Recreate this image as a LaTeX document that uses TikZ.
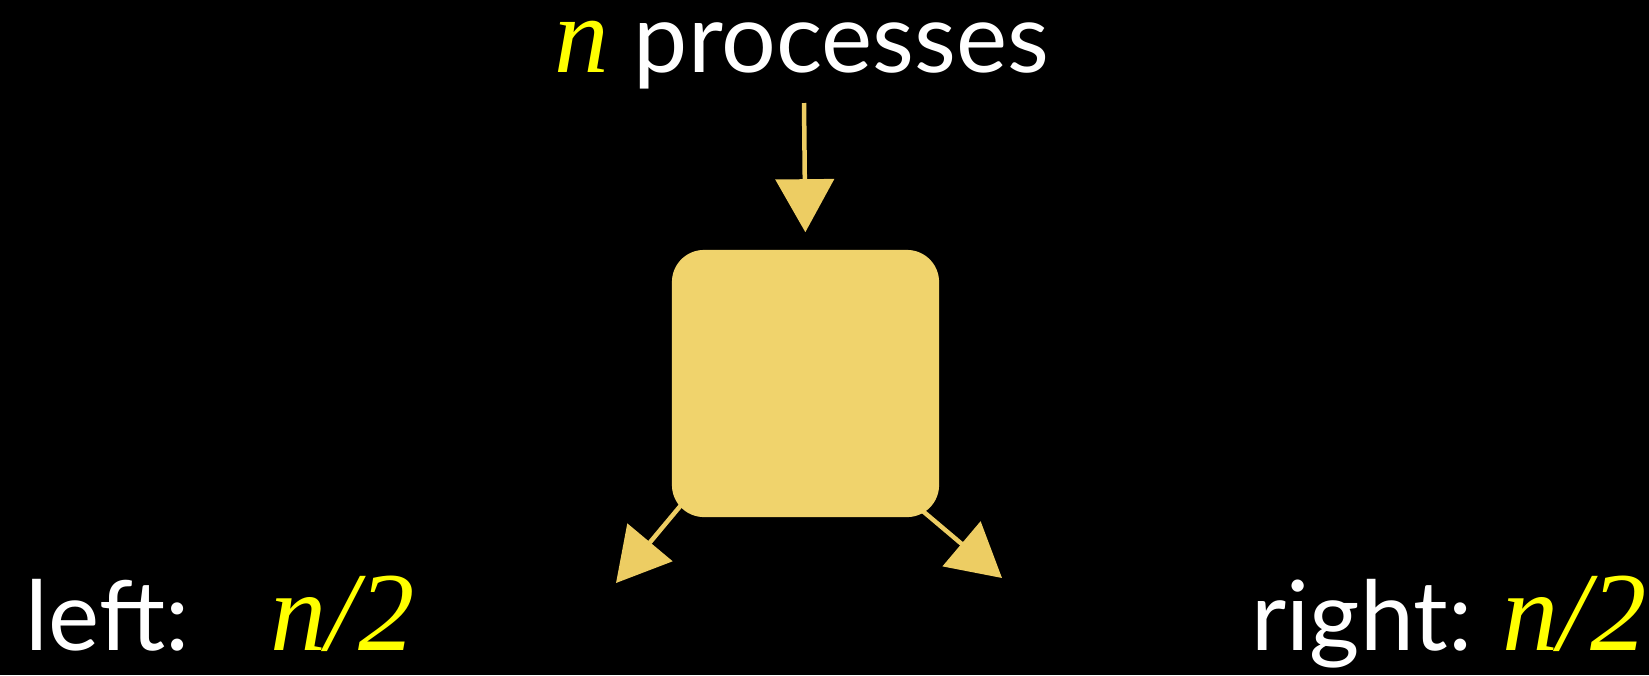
\documentclass[tikz,border=0pt]{standalone}
\usepackage{fontspec}
\setmainfont{Lato}
\newfontfamily\serifit{Liberation Serif}
\usetikzlibrary{arrows.meta, positioning, backgrounds}
\definecolor{goldBox}{HTML}{F0D36C}
\definecolor{goldLine}{HTML}{EDCD63}
\definecolor{varYellow}{HTML}{FFFF00}
\tikzset{
  arrowY/.style={-{Triangle[length=0.53cm, width=0.58cm]}, goldLine, line width=0.045cm},
  boxY/.style={rectangle, rounded corners=0.32cm, fill=goldBox, minimum width=2.67cm,
               minimum height=2.67cm, inner sep=0pt},
  txtW/.style={text=white, font=\fontsize{27.5}{33}\selectfont, inner sep=0pt},
  txtN/.style={text=varYellow, font=\serifit\itshape\fontsize{32}{38}\selectfont, inner sep=0pt},
}

\begin{document}
\begin{tikzpicture}[x=0.01cm, y=-0.01cm]
    % the process and what goes in and out
    \node[boxY] (proc) at (805.5,383.5) {};
    \node[txtW, anchor=base] (title) at (802,72)
      {{\color{varYellow}\serifit\itshape\fontsize{31}{37}\selectfont n} processes};
    \coordinate (tin) at (804,103);
    \coordinate (lt) at (616,583);
    \coordinate (rt) at (1002,578);
    \draw[arrowY, shorten >=0.17cm] (tin) -- (proc.north);
    \begin{scope}[on background layer]
      \fill[black] (0,0) rectangle (1649,675);
      \draw[arrowY] ([shift={(31,-38)}]proc.south west) -- (lt);
      \draw[arrowY] ([shift={(-41,-27)}]proc.south east) -- (rt);
    \end{scope}
    % the two halves
    \node[txtW, anchor=base west] (left) at (25,650) {left:};
    \node[txtN, anchor=base west] (leftN) at (270,650) {n/2};
    \node[txtW, anchor=base east] (right) at (1473,650) {right:};
    \node[txtN, anchor=base west] (rightN) at (1502,650) {n/2};
  \end{tikzpicture}
\end{document}
